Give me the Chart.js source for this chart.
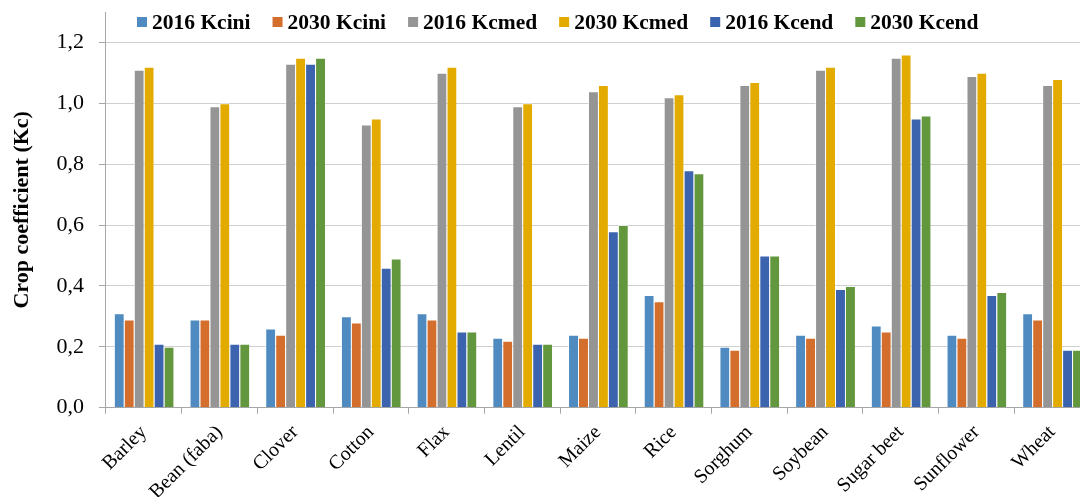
<!DOCTYPE html>
<html>
<head>
<meta charset="utf-8">
<script src="https://cdn.jsdelivr.net/npm/chart.js@4.4.1/dist/chart.umd.min.js"></script>
<style>
  html, body { margin: 0; padding: 0; background: #fff; overflow: hidden; }
  #wrap { width: 1092px; height: 497px; }
</style>
</head>
<body>
<div id="wrap"><canvas id="kcChart" width="1092" height="497"></canvas></div>
<script>
// cultivos
const crops = ['Barley', 'Bean (faba)', 'Clover', 'Cotton', 'Flax', 'Lentil', 'Maize',
  'Rice', 'Sorghum', 'Soybean', 'Sugar beet', 'Sunflower', 'Wheat'];

const kcini2016 = [0.31, 0.29, 0.26, 0.30, 0.31, 0.23, 0.24, 0.37, 0.20, 0.24, 0.27, 0.24, 0.31];
const kcini2030 = [0.29, 0.29, 0.24, 0.28, 0.29, 0.22, 0.23, 0.35, 0.19, 0.23, 0.25, 0.23, 0.29];
const kcmed2016 = [1.11, 0.99, 1.13, 0.93, 1.10, 0.99, 1.04, 1.02, 1.06, 1.11, 1.15, 1.09, 1.06];
const kcmed2030 = [1.12, 1.00, 1.15, 0.95, 1.12, 1.00, 1.06, 1.03, 1.07, 1.12, 1.16, 1.10, 1.08];
const kcend2016 = [0.21, 0.21, 1.13, 0.46, 0.25, 0.21, 0.58, 0.78, 0.50, 0.39, 0.95, 0.37, 0.19];
const kcend2030 = [0.20, 0.21, 1.15, 0.49, 0.25, 0.21, 0.60, 0.77, 0.50, 0.40, 0.96, 0.38, 0.19];

const yTicks = [0, 0.2, 0.4, 0.6, 0.8, 1.0, 1.2];

const serif = "'Liberation Serif', 'Times New Roman', serif";

function ds(label, data, color) {
  return {
    label: label,
    data: data,
    backgroundColor: color,
    borderColor: 'rgba(255,255,255,0.6)',
    borderWidth: { left: 1, right: 0, top: 1, bottom: 0 },
    barPercentage: 1.0,
    categoryPercentage: 0.79
  };
}

// leyenda dentro del area del grafico
const insideLegend = {
  id: 'insideLegend',
  afterDraw(chart) {
    const ctx = chart.ctx;
    ctx.save();
    ctx.font = 'bold 21.5px ' + serif;
    ctx.textBaseline = 'middle';
    let x = 137;
    const y = 22;
    chart.data.datasets.forEach(d => {
      const w = ctx.measureText(d.label).width;
      ctx.fillStyle = '#fff';
      ctx.fillRect(x - 4, y - 12, w + 23, 24);
      ctx.fillStyle = d.backgroundColor;
      ctx.fillRect(x, y - 5, 10, 10);
      ctx.fillStyle = '#000';
      ctx.fillText(d.label, x + 15, y + 1);
      x += 15 + w + 22;
    });
    ctx.restore();
  }
};

const ctx = document.getElementById('kcChart').getContext('2d');
new Chart(ctx, {
  type: 'bar',
  data: {
    labels: crops,
    datasets: [
      ds('2016 Kcini', kcini2016, '#4F8BC0'),
      ds('2030 Kcini', kcini2030, '#D46E2C'),
      ds('2016 Kcmed', kcmed2016, '#959595'),
      ds('2030 Kcmed', kcmed2030, '#E3AA00'),
      ds('2016 Kcend', kcend2016, '#3C63AD'),
      ds('2030 Kcend', kcend2030, '#63973E')
    ]
  },
  options: {
    responsive: false,
    animation: false,
    devicePixelRatio: 1,
    layout: { padding: { left: 9, top: 12, right: 2, bottom: -9 } },
    plugins: {
      legend: { display: false },
      tooltip: { enabled: false }
    },
    scales: {
      x: {
        afterFit(scale) {
          scale.paddingTop = 0;
          scale.paddingRight = 0;
          scale.height = scale.height - 5;
        },
        grid: {
          display: true,
          drawOnChartArea: false,
          drawTicks: true,
          tickLength: 6,
          color: '#A6A6A6'
        },
        border: { color: '#A6A6A6', width: 1 },
        ticks: {
          color: '#000',
          font: { family: serif, size: 20 },
          minRotation: 45,
          maxRotation: 45,
          autoSkip: false,
          padding: 7
        }
      },
      y: {
        min: 0,
        max: 1.3,
        afterBuildTicks(scale) {
          scale.ticks = yTicks.map(v => ({ value: v }));
        },
        afterFit(scale) {
          scale.paddingTop = 0;
          scale.width = scale.width + 6;
        },
        grid: {
          color: '#D0D0D0',
          lineWidth: 1,
          drawTicks: true,
          tickLength: 7,
          tickColor: '#A6A6A6'
        },
        border: { color: '#A6A6A6', width: 1 },
        ticks: {
          color: '#000',
          font: { family: serif, size: 22 },
          padding: 15,
          callback: v => v.toFixed(1).replace('.', ',')
        },
        title: {
          display: true,
          text: 'Crop coefficient (Kc)',
          color: '#000',
          font: { family: serif, size: 22, weight: 'bold' },
          padding: { top: 0, bottom: 0 }
        }
      }
    }
  },
  plugins: [insideLegend]
});
</script>
</body>
</html>
